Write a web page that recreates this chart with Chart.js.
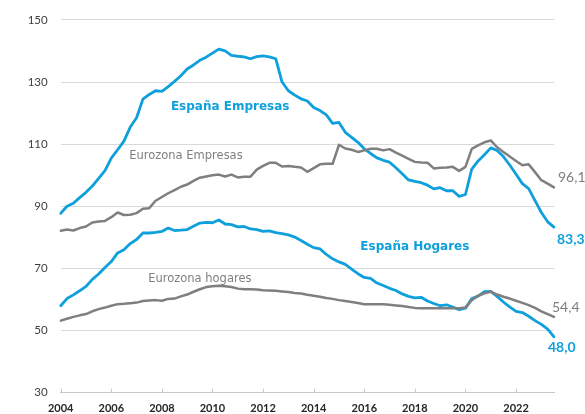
<!DOCTYPE html>
<html>
<head>
<meta charset="utf-8">
<script src="https://cdn.jsdelivr.net/npm/chart.js@4/dist/chart.umd.min.js"></script>
<style>
  html, body { margin: 0; padding: 0; background: #fff; }
  #wrap { width: 585px; height: 414px; }
</style>
</head>
<body>
<div id="wrap"><canvas id="debtChart"></canvas></div>
<script>
// Deuda del sector privado (% PIB), datos trimestrales 2004T1 - 2023T3
const years = [2004, 2005, 2006, 2007, 2008, 2009, 2010, 2011, 2012, 2013,
  2014, 2015, 2016, 2017, 2018, 2019, 2020, 2021, 2022, 2023];
const tickYears = [2004, 2006, 2008, 2010, 2012, 2014, 2016, 2018, 2020, 2022];
const yTicks = [30, 50, 70, 90, 110, 130, 150];

const espanaEmpresas = [
  87.7, 90.0, 91.0, 92.8, 94.5, 96.5, 99.0, 101.5, 105.5, 108.2,
  111.0, 115.5, 118.5, 124.5, 126.0, 127.2, 127.0, 128.5, 130.2, 132.0,
  134.2, 135.5, 137.0, 138.0, 139.3, 140.6, 140.0, 138.6, 138.3, 138.1,
  137.5, 138.2, 138.4, 138.1, 137.5, 130.0, 127.2, 125.8, 124.6, 123.9,
  121.8, 120.8, 119.4, 116.7, 117.0, 113.8, 112.2, 110.6, 108.5, 107.0,
  105.6, 104.8, 104.2, 102.4, 100.5, 98.5, 98.0, 97.6, 96.8, 95.6,
  96.0, 95.0, 95.0, 93.2, 93.8, 102.0, 104.6, 106.6, 108.8, 108.0,
  106.0, 103.3, 100.3, 97.3, 95.7, 91.8, 88.0, 85.0, 83.3
];
const eurozonaEmpresas = [
  82.1, 82.5, 82.2, 83.0, 83.5, 84.8, 85.1, 85.3, 86.5, 88.0,
  87.2, 87.3, 87.8, 89.2, 89.4, 91.8, 93.0, 94.2, 95.2, 96.3,
  97.0, 98.2, 99.2, 99.6, 100.0, 100.2, 99.6, 100.2, 99.3, 99.5,
  99.5, 101.8, 103.0, 104.0, 104.0, 102.8, 103.0, 102.7, 102.5, 101.1,
  102.3, 103.5, 103.7, 103.7, 109.8, 108.6, 108.2, 107.5, 108.0, 108.5,
  108.5, 108.0, 108.4, 107.3, 106.3, 105.3, 104.3, 104.1, 104.0, 102.2,
  102.4, 102.5, 102.7, 101.4, 102.7, 108.5, 109.6, 110.6, 111.2, 109.0,
  107.5, 106.0, 104.6, 103.2, 103.5, 101.0, 98.4, 97.3, 96.1
];
const espanaHogares = [
  58.0, 60.3, 61.5, 62.8, 64.2, 66.5, 68.2, 70.3, 72.2, 75.0,
  76.0, 78.0, 79.3, 81.4, 81.4, 81.6, 81.9, 83.0, 82.2, 82.3,
  82.5, 83.6, 84.6, 84.8, 84.7, 85.6, 84.3, 84.1, 83.4, 83.5,
  82.7, 82.5, 81.9, 82.1, 81.5, 81.2, 80.8, 80.1, 79.0, 77.8,
  76.7, 76.3, 74.5, 73.1, 72.1, 71.3, 69.8, 68.3, 67.1, 66.8,
  65.3, 64.5, 63.6, 62.9, 61.8, 61.0, 60.5, 60.7, 59.5, 58.7,
  58.0, 58.3, 57.6, 56.7, 57.2, 60.3, 61.1, 62.5, 62.6, 61.0,
  59.2, 57.6, 56.2, 55.8, 54.6, 53.2, 52.0, 50.5, 48.0
];
const eurozonaHogares = [
  53.2, 53.8, 54.4, 54.9, 55.3, 56.2, 56.9, 57.4, 58.0, 58.5,
  58.6, 58.8, 59.0, 59.5, 59.7, 59.8, 59.6, 60.2, 60.3, 61.0,
  61.6, 62.5, 63.3, 64.0, 64.3, 64.4, 64.3, 64.0, 63.5, 63.3,
  63.3, 63.2, 63.0, 62.9, 62.8, 62.6, 62.4, 62.1, 61.9, 61.5,
  61.2, 60.9, 60.5, 60.2, 59.8, 59.5, 59.2, 58.9, 58.5, 58.5,
  58.5, 58.5, 58.3, 58.1, 57.9, 57.6, 57.3, 57.2, 57.2, 57.2,
  57.2, 57.2, 57.2, 57.2, 57.4, 59.8, 61.2, 62.0, 62.5, 61.6,
  60.9, 60.3, 59.6, 58.9, 58.2, 57.3, 56.2, 55.3, 54.4
];
const endLabels = ['96,1', '83,3', '54,4', '48,0'];

const BLUE = '#0ea0dc';
const GREY = '#7f7f7f';

// etiquetas trimestrales: 2004T1 ... 2023T3
const quarters = [];
years.forEach(y => {
  for (let q = 1; q <= 4; q++) quarters.push(y + 'T' + q);
});
quarters.length = espanaEmpresas.length;

// nombres de series colocados sobre el gráfico (índice de trimestre, valor)
const seriesNames = [
  { text: 'España Empresas', at: 26.8, value: 122.1, color: BLUE, bold: true },
  { text: 'Eurozona Empresas', at: 19.8, value: 106.2, color: GREY, bold: false },
  { text: 'España Hogares', at: 56.0, value: 77.1, color: BLUE, bold: true },
  { text: 'Eurozona hogares', at: 22.0, value: 66.6, color: GREY, bold: false }
];

const labelsPlugin = {
  id: 'labels',
  afterDatasetsDraw(chart) {
    const { ctx, chartArea, scales: { x, y } } = chart;
    ctx.save();

    // marcas del eje X hacia dentro
    ctx.strokeStyle = '#c8c8c8';
    ctx.lineWidth = 1;
    x.ticks.forEach(t => {
      const px = Math.round(x.getPixelForValue(t.value)) + 0.5;
      ctx.beginPath();
      ctx.moveTo(px, chartArea.bottom);
      ctx.lineTo(px, chartArea.bottom - 4);
      ctx.stroke();
    });

    ctx.textBaseline = 'middle';
    ctx.textAlign = 'center';
    seriesNames.forEach(s => {
      ctx.fillStyle = s.color;
      ctx.font = s.bold ? 'bold 12px "DejaVu Sans"' : '11.5px "DejaVu Sans"';
      ctx.fillText(s.text, x.getPixelForValue(s.at), y.getPixelForValue(s.value));
    });

    // valores finales
    const offsets = [[4, -10], [3, 12], [-2, -9], [-6, 11]];
    ctx.textAlign = 'left';
    chart.data.datasets.forEach((ds, i) => {
      const last = ds.data.length - 1;
      const px = x.getPixelForValue(last) + offsets[i][0];
      const py = y.getPixelForValue(ds.data[last]) + offsets[i][1];
      ctx.fillStyle = ds.borderColor;
      ctx.font = (ds.borderColor === BLUE ? 'bold ' : '') + '14px Lato';
      ctx.fillText(endLabels[i], px, py);
    });
    ctx.restore();
  }
};

new Chart(document.getElementById('debtChart'), {
  type: 'line',
  data: {
    labels: quarters,
    datasets: [
      { label: 'Eurozona Empresas', data: eurozonaEmpresas, borderColor: GREY, borderWidth: 2.5 },
      { label: 'España Empresas', data: espanaEmpresas, borderColor: BLUE, borderWidth: 2.8 },
      { label: 'Eurozona hogares', data: eurozonaHogares, borderColor: GREY, borderWidth: 2.5 },
      { label: 'España Hogares', data: espanaHogares, borderColor: BLUE, borderWidth: 2.8 }
    ]
  },
  options: {
    responsive: true,
    maintainAspectRatio: false,
    animation: false,
    layout: { padding: { top: 17, right: 31, bottom: 0, left: 0 } },
    elements: {
      point: { radius: 0 },
      line: { tension: 0, borderJoinStyle: 'round', borderCapStyle: 'round' }
    },
    plugins: {
      legend: { display: false },
      tooltip: { enabled: false }
    },
    scales: {
      x: {
        type: 'category',
        offset: false,
        grid: { drawOnChartArea: false, drawTicks: false },
        border: { display: true, color: '#c8c8c8' },
        afterBuildTicks(scale) {
          scale.ticks = tickYears.map(yr => ({ value: quarters.indexOf(yr + 'T1') }));
        },
        afterFit(scale) { scale.height = 21.3; },
        ticks: {
          autoSkip: false,
          maxRotation: 0,
          padding: 9,
          color: '#262626',
          font: { family: 'Lato', size: 11, weight: 'bold' },
          callback(value) { return quarters[value].slice(0, 4); }
        }
      },
      y: {
        min: 30,
        max: 150,
        afterBuildTicks(scale) {
          scale.ticks = yTicks.map(v => ({ value: v }));
        },
        afterFit(scale) { scale.width = 60.7; },
        grid: { color: '#d9d9d9', lineWidth: 1, drawTicks: false },
        border: { display: false },
        ticks: {
          padding: 13,
          color: '#404040',
          font: { family: 'Lato', size: 11.5 }
        }
      }
    }
  },
  plugins: [labelsPlugin]
});
</script>
</body>
</html>
